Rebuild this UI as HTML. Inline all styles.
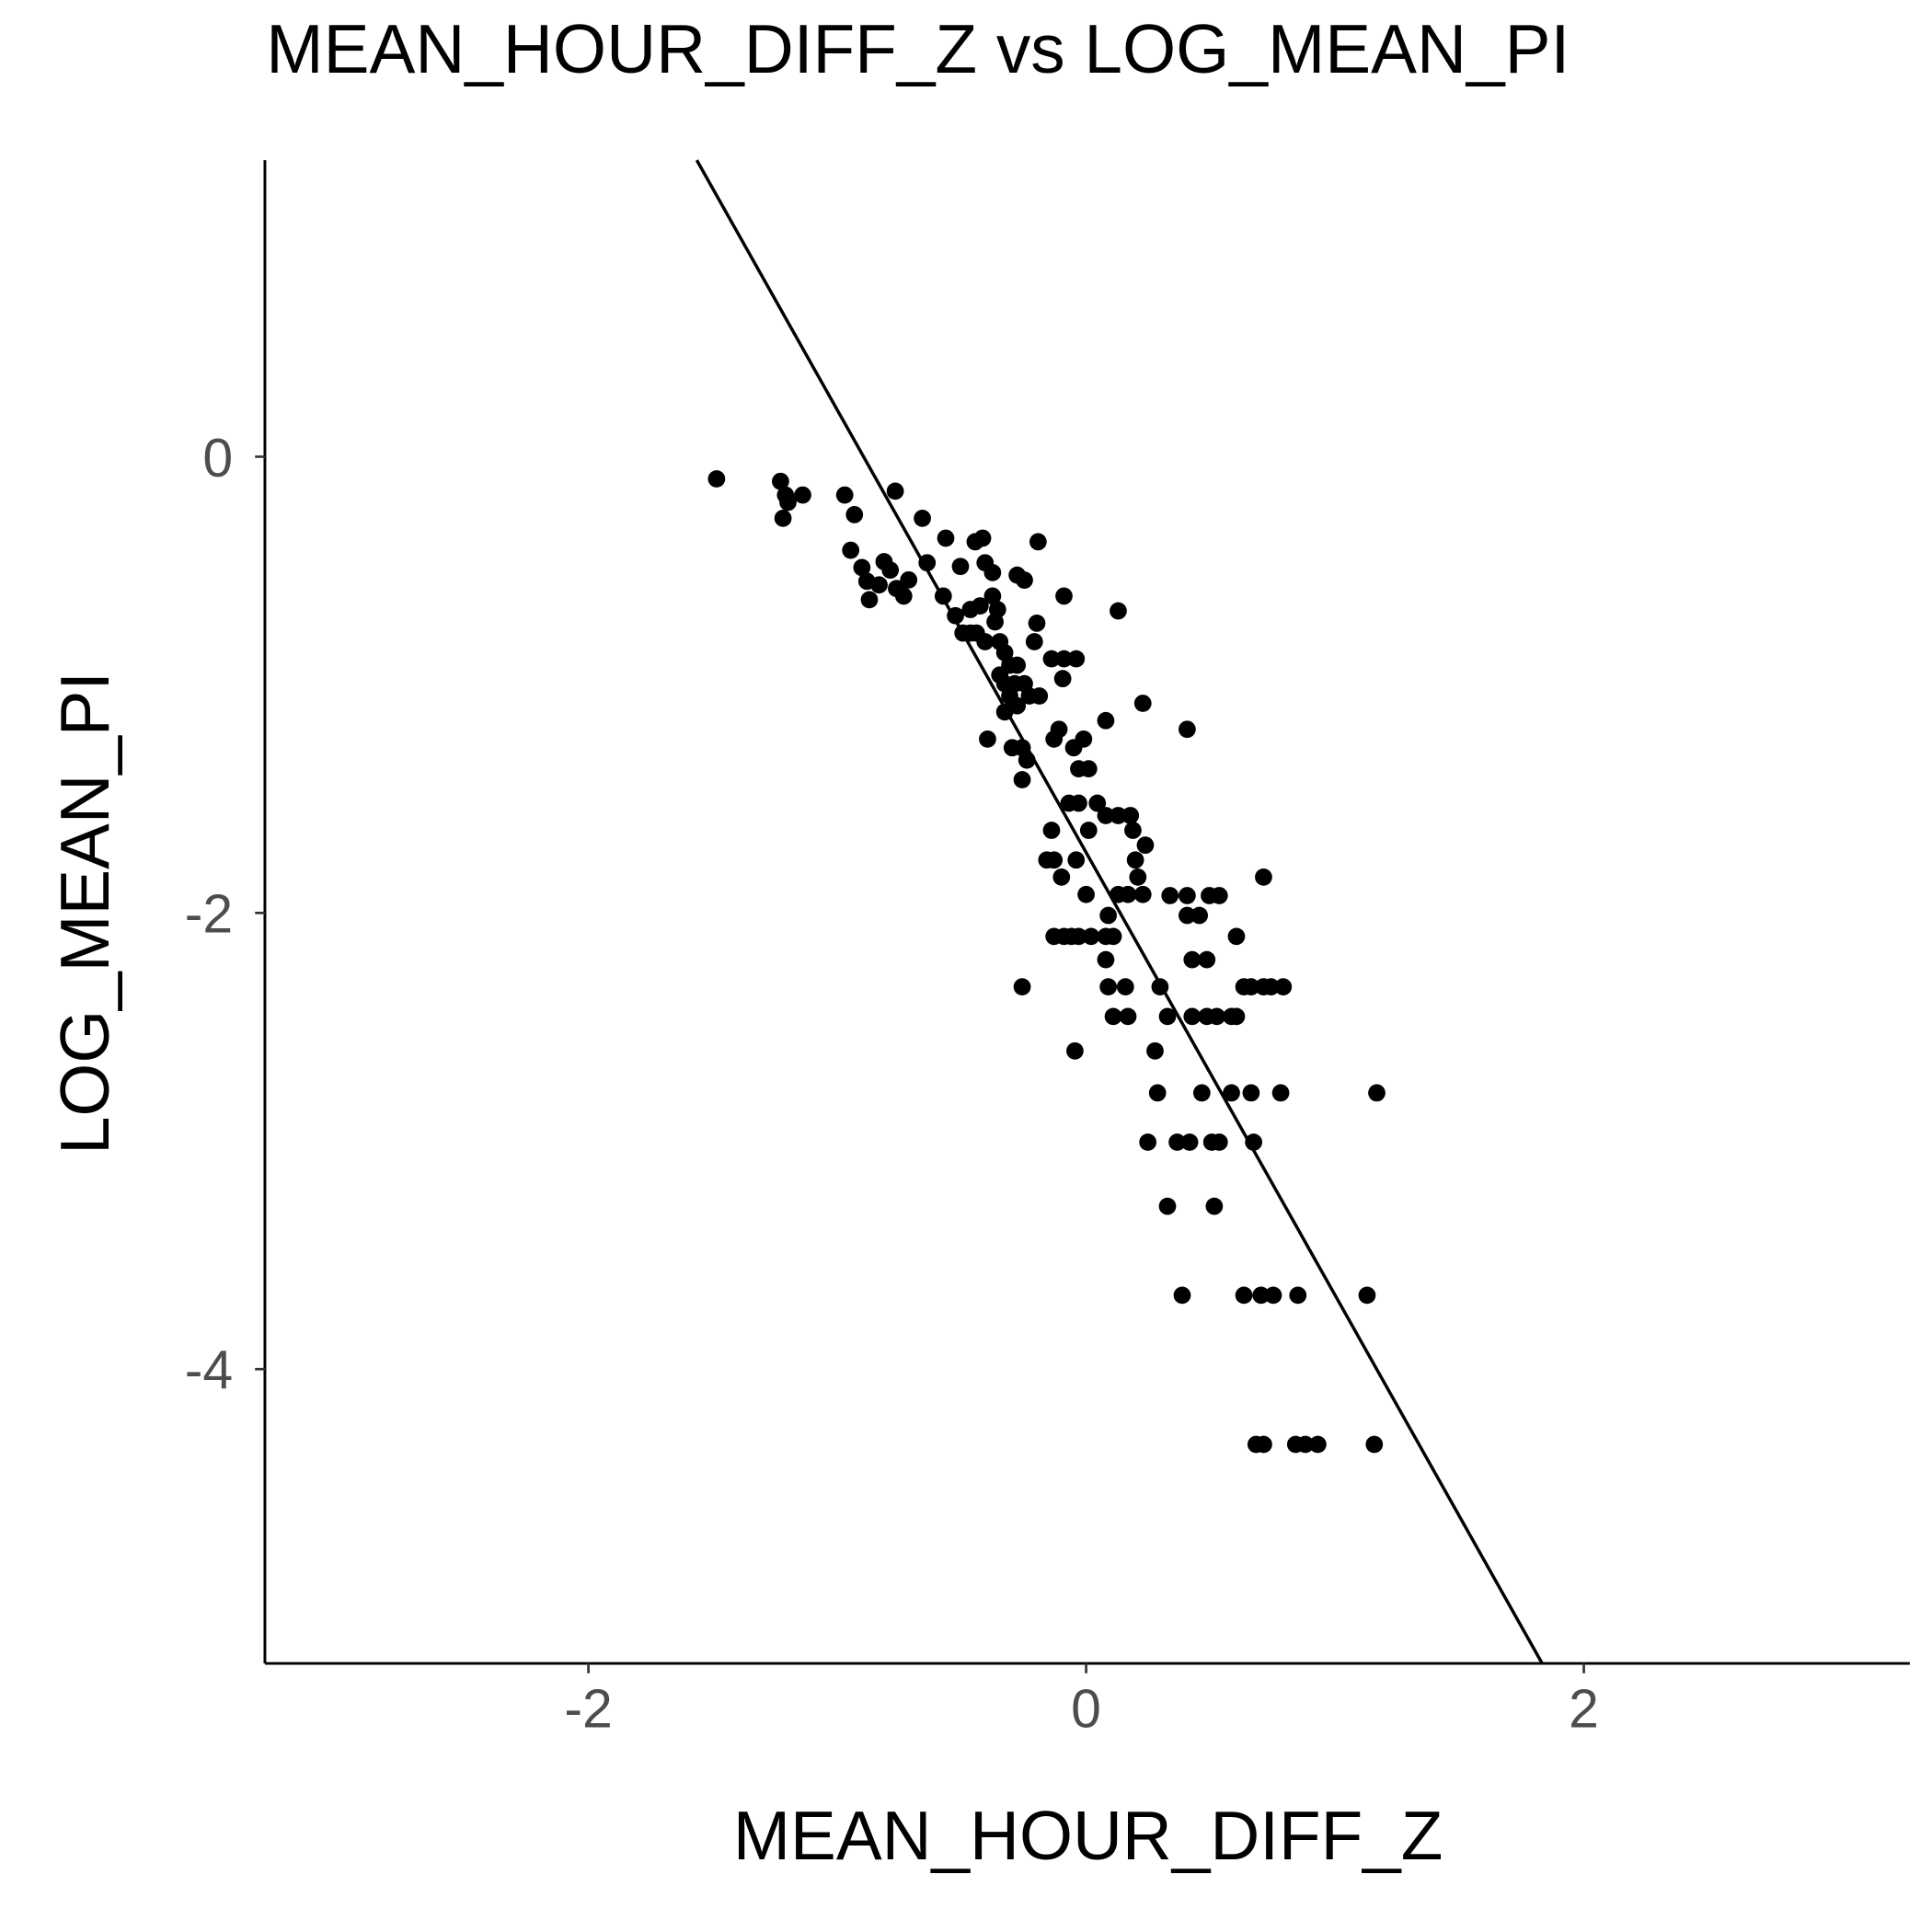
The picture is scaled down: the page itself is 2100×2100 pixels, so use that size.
<!DOCTYPE html>
<html><head><meta charset="utf-8"><style>
html,body{margin:0;padding:0;background:#fff;}
svg{display:block;font-family:"Liberation Sans",Arial,sans-serif;}
</style></head><body>
<svg id="chart" width="2100" height="2100" viewBox="0 0 1568 1568" xmlns="http://www.w3.org/2000/svg">
<rect width="1568" height="1568" fill="#fff"/>
<text x="216" y="59" font-size="56" textLength="1058" lengthAdjust="spacingAndGlyphs" fill="#000">MEAN_HOUR_DIFF_Z vs LOG_MEAN_PI</text>
<text x="883" y="1509" font-size="56" text-anchor="middle" textLength="576" lengthAdjust="spacingAndGlyphs" fill="#000">MEAN_HOUR_DIFF_Z</text>
<text transform="translate(88,741) rotate(-90)" font-size="56" text-anchor="middle" textLength="392" lengthAdjust="spacingAndGlyphs" fill="#000">LOG_MEAN_PI</text>
<g id="marks"></g>
</svg>
<script>
const xTicks=[-2,0,2];
const yTicks=[0,-2,-4];
const xTickLabels=["-2","0","2"];
const yTickLabels=["0","-2","-4"];
const fitSlope=[-1.94];
const fitIntercept=[-1.735];
const xs=[-1.485,-1.228,-1.208,-1.198,-1.218,-1.139,-0.97,-0.931,-0.946,-0.901,-0.881,-0.871,-0.832,-0.812,-0.787,-0.762,-0.733,-0.713,-0.767,-0.658,-0.639,-0.574,-0.564,-0.505,-0.525,-0.495,-0.465,-0.441,-0.446,-0.416,-0.406,-0.376,-0.465,-0.426,-0.376,-0.356,-0.366,-0.406,-0.347,-0.327,-0.307,-0.347,-0.327,-0.287,-0.307,-0.327,-0.277,-0.396,-0.297,-0.257,-0.238,-0.257,-0.277,-0.248,-0.228,-0.188,-0.208,-0.198,-0.277,-0.248,-0.193,-0.139,-0.089,-0.04,-0.094,-0.089,-0.129,-0.109,-0.05,-0.01,-0.03,0.01,-0.069,-0.03,-0.139,0.01,-0.158,-0.129,-0.04,-0.099,0,0.045,0.079,0.129,0.178,0.188,0.238,0.198,0.208,0.129,0.168,0.228,0.079,0.129,0.228,0.406,-0.129,-0.089,-0.059,-0.03,0.02,0.089,0.079,0.109,0.079,0.089,0.158,0.109,0.168,-0.257,-0.045,0.297,0.337,0.406,0.406,0.455,0.495,0.535,0.426,0.485,0.327,0.426,0.485,0.525,0.584,0.604,0.604,0.634,0.663,0.713,0.743,0.792,0.713,0.277,0.287,0.465,0.584,0.663,0.782,1.168,0.248,0.366,0.416,0.505,0.535,0.673,0.327,0.515,0.386,0.634,0.703,0.752,0.851,1.129,0.683,0.713,0.842,0.881,0.931,1.158];
const ys=[-0.097,-0.108,-0.168,-0.2,-0.27,-0.168,-0.168,-0.254,-0.41,-0.486,-0.546,-0.627,-0.562,-0.46,-0.497,-0.578,-0.611,-0.54,-0.151,-0.27,-0.465,-0.611,-0.357,-0.481,-0.697,-0.773,-0.773,-0.773,-0.373,-0.357,-0.465,-0.508,-0.67,-0.654,-0.611,-0.67,-0.724,-0.811,-0.811,-0.859,-0.914,-0.957,-0.995,-0.995,-1.049,-1.119,-1.092,-1.238,-1.276,-1.276,-1.33,-1.416,-0.914,-0.995,-1.049,-1.049,-0.811,-0.73,-0.519,-0.541,-0.373,-0.886,-0.886,-0.886,-0.973,-0.611,-1.238,-1.195,-1.276,-1.238,-1.368,-1.368,-1.519,-1.519,-1.638,-1.638,-1.768,-1.768,-1.768,-1.843,-1.919,-1.519,-1.573,-1.573,-1.573,-1.638,-1.703,-1.768,-1.843,-1.919,-1.919,-1.919,-1.157,-0.676,-1.081,-1.195,-2.103,-2.103,-2.103,-2.103,-2.103,-2.011,-2.103,-2.103,-2.205,-2.324,-2.324,-2.454,-2.454,-2.324,-2.605,-2.324,-1.924,-1.924,-2.011,-2.011,-1.924,-1.924,-2.205,-2.205,-2.454,-2.454,-2.454,-2.454,-2.454,-2.103,-2.454,-2.324,-2.324,-2.324,-2.324,-2.324,-1.843,-2.605,-2.789,-2.789,-2.789,-2.789,-2.789,-2.789,-3.005,-3.005,-3.005,-3.005,-3.005,-3.005,-3.286,-3.286,-3.676,-3.676,-3.676,-3.676,-3.676,-3.676,-4.33,-4.33,-4.33,-4.33,-4.33,-4.33];

const L=215,R=1550,T=130,B=1350;
const xMin=-3.3,xMax=3.31,yMin=-5.29,yMax=1.30;
function sx(v){return L+(v-xMin)/(xMax-xMin)*(R-L);}
function sy(v){return B-(v-yMin)/(yMax-yMin)*(B-T);}
const NS="http://www.w3.org/2000/svg";
const g=document.getElementById('marks');
function mk(tag,attrs){const e=document.createElementNS(NS,tag);for(const k in attrs)e.setAttribute(k,attrs[k]);g.appendChild(e);return e;}

for(let i=0;i<xs.length;i++){
  const c=mk('circle',{cx:sx(xs[i]),cy:sy(ys[i]),r:7,fill:'#000'});
  
  
}
{
  const m=fitSlope[0],b=fitIntercept[0];
  let x1=(yMax-b)/m, x2=(yMin-b)/m;
  x1=Math.max(xMin,Math.min(xMax,x1)); x2=Math.max(xMin,Math.min(xMax,x2));
  const ln=mk('line',{x1:sx(x1),y1:sy(m*x1+b),x2:sx(x2),y2:sy(m*x2+b),stroke:'#000','stroke-width':2.6});
  
  
}
const xa=mk('line',{x1:L,y1:B,x2:R,y2:B,stroke:'#000','stroke-width':2.2});


const ya=mk('line',{x1:L,y1:T,x2:L,y2:B,stroke:'#000','stroke-width':2.2});


xTicks.forEach((v,i)=>{
  const t=mk('line',{x1:sx(v),y1:B,x2:sx(v),y2:B+8,stroke:'#333','stroke-width':2});
  
  
  const tx=mk('text',{x:sx(v),y:B+52,'font-size':44,'text-anchor':'middle',fill:'#4d4d4d'});
  tx.textContent=xTickLabels[i];
  
  
});
yTicks.forEach((v,i)=>{
  const t=mk('line',{x1:L-8,y1:sy(v),x2:L,y2:sy(v),stroke:'#333','stroke-width':2});
  
  
  const tx=mk('text',{x:L-26,y:sy(v)+16,'font-size':44,'text-anchor':'end',fill:'#4d4d4d'});
  tx.textContent=yTickLabels[i];
  
  
});
</script>
</body></html>
